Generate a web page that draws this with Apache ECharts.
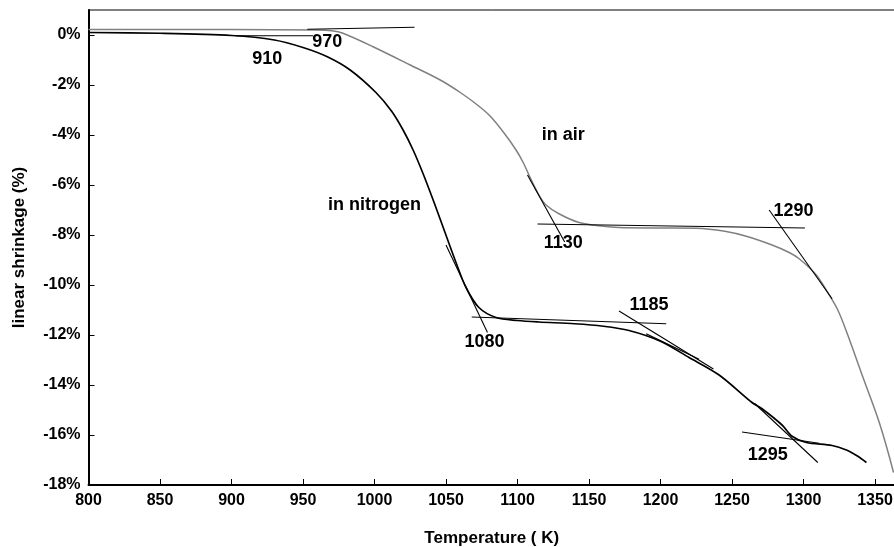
<!DOCTYPE html>
<html>
<head>
<meta charset="utf-8">
<script src="https://cdn.jsdelivr.net/npm/echarts@6/dist/echarts.min.js"></script>
<style>
  html, body { margin: 0; padding: 0; background: #fff; }
  #main { width: 894px; height: 547px; }
</style>
</head>
<body>
<div id="main"></div>
<script>
// shrinkage curves, [temperature K, linear shrinkage %]
const nitrogen = [
    [800, 0.1], [850, 0.07], [900, -0.02], [930, -0.2], [950, -0.5], [967, -0.87],
    [983, -1.4], [1001, -2.3], [1012, -3.05], [1020, -3.8], [1027, -4.6], [1034, -5.55],
    [1042, -6.75], [1049, -7.85], [1057, -9.1], [1064, -10.1], [1073, -10.9], [1085, -11.3],
    [1100, -11.42], [1115, -11.48], [1140, -11.55], [1160, -11.65], [1178, -11.82],
    [1200, -12.25], [1220, -12.9], [1241, -13.6], [1264, -14.7], [1271, -14.95],
    [1285, -15.6], [1292, -16.05], [1302, -16.3], [1320, -16.42], [1330, -16.6],
    [1338, -16.85], [1344, -17.1]
];
const air = [
    [800, 0.22], [900, 0.22], [960, 0.2], [970, 0.17], [978, 0.07], [999, -0.47],
    [1025, -1.2], [1046, -1.8], [1060, -2.3], [1072, -2.8], [1081, -3.25], [1091, -3.95],
    [1099, -4.6], [1104, -5.1], [1108, -5.6], [1115, -6.4], [1120, -6.8], [1129, -7.15],
    [1143, -7.5], [1160, -7.65], [1171, -7.7], [1200, -7.72], [1225, -7.73], [1245, -7.85],
    [1260, -8.05], [1278, -8.4], [1290, -8.7], [1297, -8.95], [1309, -9.6], [1318, -10.4],
    [1324, -11.0], [1330, -11.85], [1341, -13.6], [1353, -15.5], [1363, -17.5]
];

// tangent construction lines
const tangents = [
    [[903, -0.03], [957, -0.03]],
    [[953, 0.23], [1028, 0.31]],
    [[1050, -8.4], [1079, -11.9]],
    [[1068, -11.28], [1204, -11.55]],
    [[1107, -5.6], [1133, -8.28]],
    [[1114, -7.56], [1301, -7.72]],
    [[1171, -11.04], [1237, -13.36]],
    [[1190, -11.95], [1227, -12.97]],
    [[1276, -7.0], [1320, -10.55]],
    [[1257, -15.88], [1311, -16.33]],
    [[1266, -14.75], [1310, -17.1]]
];

// annotation texts placed at data coordinates
const notes = [
    [925, -0.96, '910'],
    [967, -0.28, '970'],
    [1132, -4.0, 'in air'],
    [1000, -6.8, 'in nitrogen'],
    [1132, -8.32, '1130'],
    [1293, -7.04, '1290'],
    [1077, -12.3, '1080'],
    [1192, -10.8, '1185'],
    [1275, -16.8, '1295']
];

const xMin = 800, xMax = 1364, xStep = 50;
const yMin = -18, yMax = 1, yStep = 2;

const font = 'Liberation Sans, Arial, sans-serif';
let myChart = echarts.init(document.getElementById('main'));

let series = [
    {
        type: 'line',
        data: nitrogen,
        smooth: 0.3,
        showSymbol: false,
        lineStyle: { color: '#000', width: 1.7 },
        z: 3
    },
    {
        type: 'line',
        data: air,
        smooth: 0.3,
        showSymbol: false,
        lineStyle: { color: '#808080', width: 1.5 },
        z: 3
    }
];

tangents.forEach(function (seg) {
    series.push({
        type: 'line',
        data: seg,
        showSymbol: false,
        lineStyle: { color: '#000', width: 1.1 },
        z: 4
    });
});

series.push({
    type: 'scatter',
    data: notes.map(n => ({ value: [n[0], n[1]], name: n[2] })),
    symbolSize: 1,
    itemStyle: { opacity: 0 },
    label: {
        show: true,
        position: 'inside',
        formatter: p => p.name,
        color: '#000',
        opacity: 1,
        fontFamily: font,
        fontWeight: 'bold',
        fontSize: 18
    },
    z: 5
});

let option = {
    animation: false,
    backgroundColor: '#fff',
    grid: {
        left: 88.5,
        right: -1,
        top: 10,
        bottom: 62,
        outerBoundsMode: 'none',
        containLabel: false,
        show: true,
        borderColor: '#000',
        borderWidth: 1
    },
    xAxis: {
        type: 'value',
        min: xMin,
        max: xMax,
        interval: xStep,
        name: 'Temperature ( K)',
        nameLocation: 'middle',
        nameGap: 45,
        nameTextStyle: { fontFamily: font, fontWeight: 'bold', fontSize: 17, color: '#000' },
        axisLine: { show: true, onZero: false, lineStyle: { color: '#000', width: 2 } },
        axisTick: { show: true, inside: true, length: 6, lineStyle: { color: '#000', width: 1 } },
        axisLabel: {
            showMaxLabel: false,
            margin: 8,
            color: '#000',
            fontFamily: font,
            fontWeight: 'bold',
            fontSize: 16,
            formatter: v => String(v)
        },
        splitLine: { show: false }
    },
    yAxis: {
        type: 'value',
        min: yMin,
        max: yMax,
        interval: yStep,
        name: 'linear shrinkage (%)',
        nameLocation: 'middle',
        nameGap: 61,
        nameTextStyle: { fontFamily: font, fontWeight: 'bold', fontSize: 17, color: '#000' },
        axisLine: { show: true, onZero: false, lineStyle: { color: '#000', width: 2 } },
        axisTick: { show: true, inside: true, length: 6, lineStyle: { color: '#000', width: 1 } },
        axisLabel: {
            showMaxLabel: false,
            margin: 8,
            color: '#000',
            fontFamily: font,
            fontWeight: 'bold',
            fontSize: 16,
            formatter: v => (v > 0 ? '' : v + '%')
        },
        splitLine: { show: false }
    },
    series: series
};

myChart.setOption(option);
</script>
</body>
</html>
